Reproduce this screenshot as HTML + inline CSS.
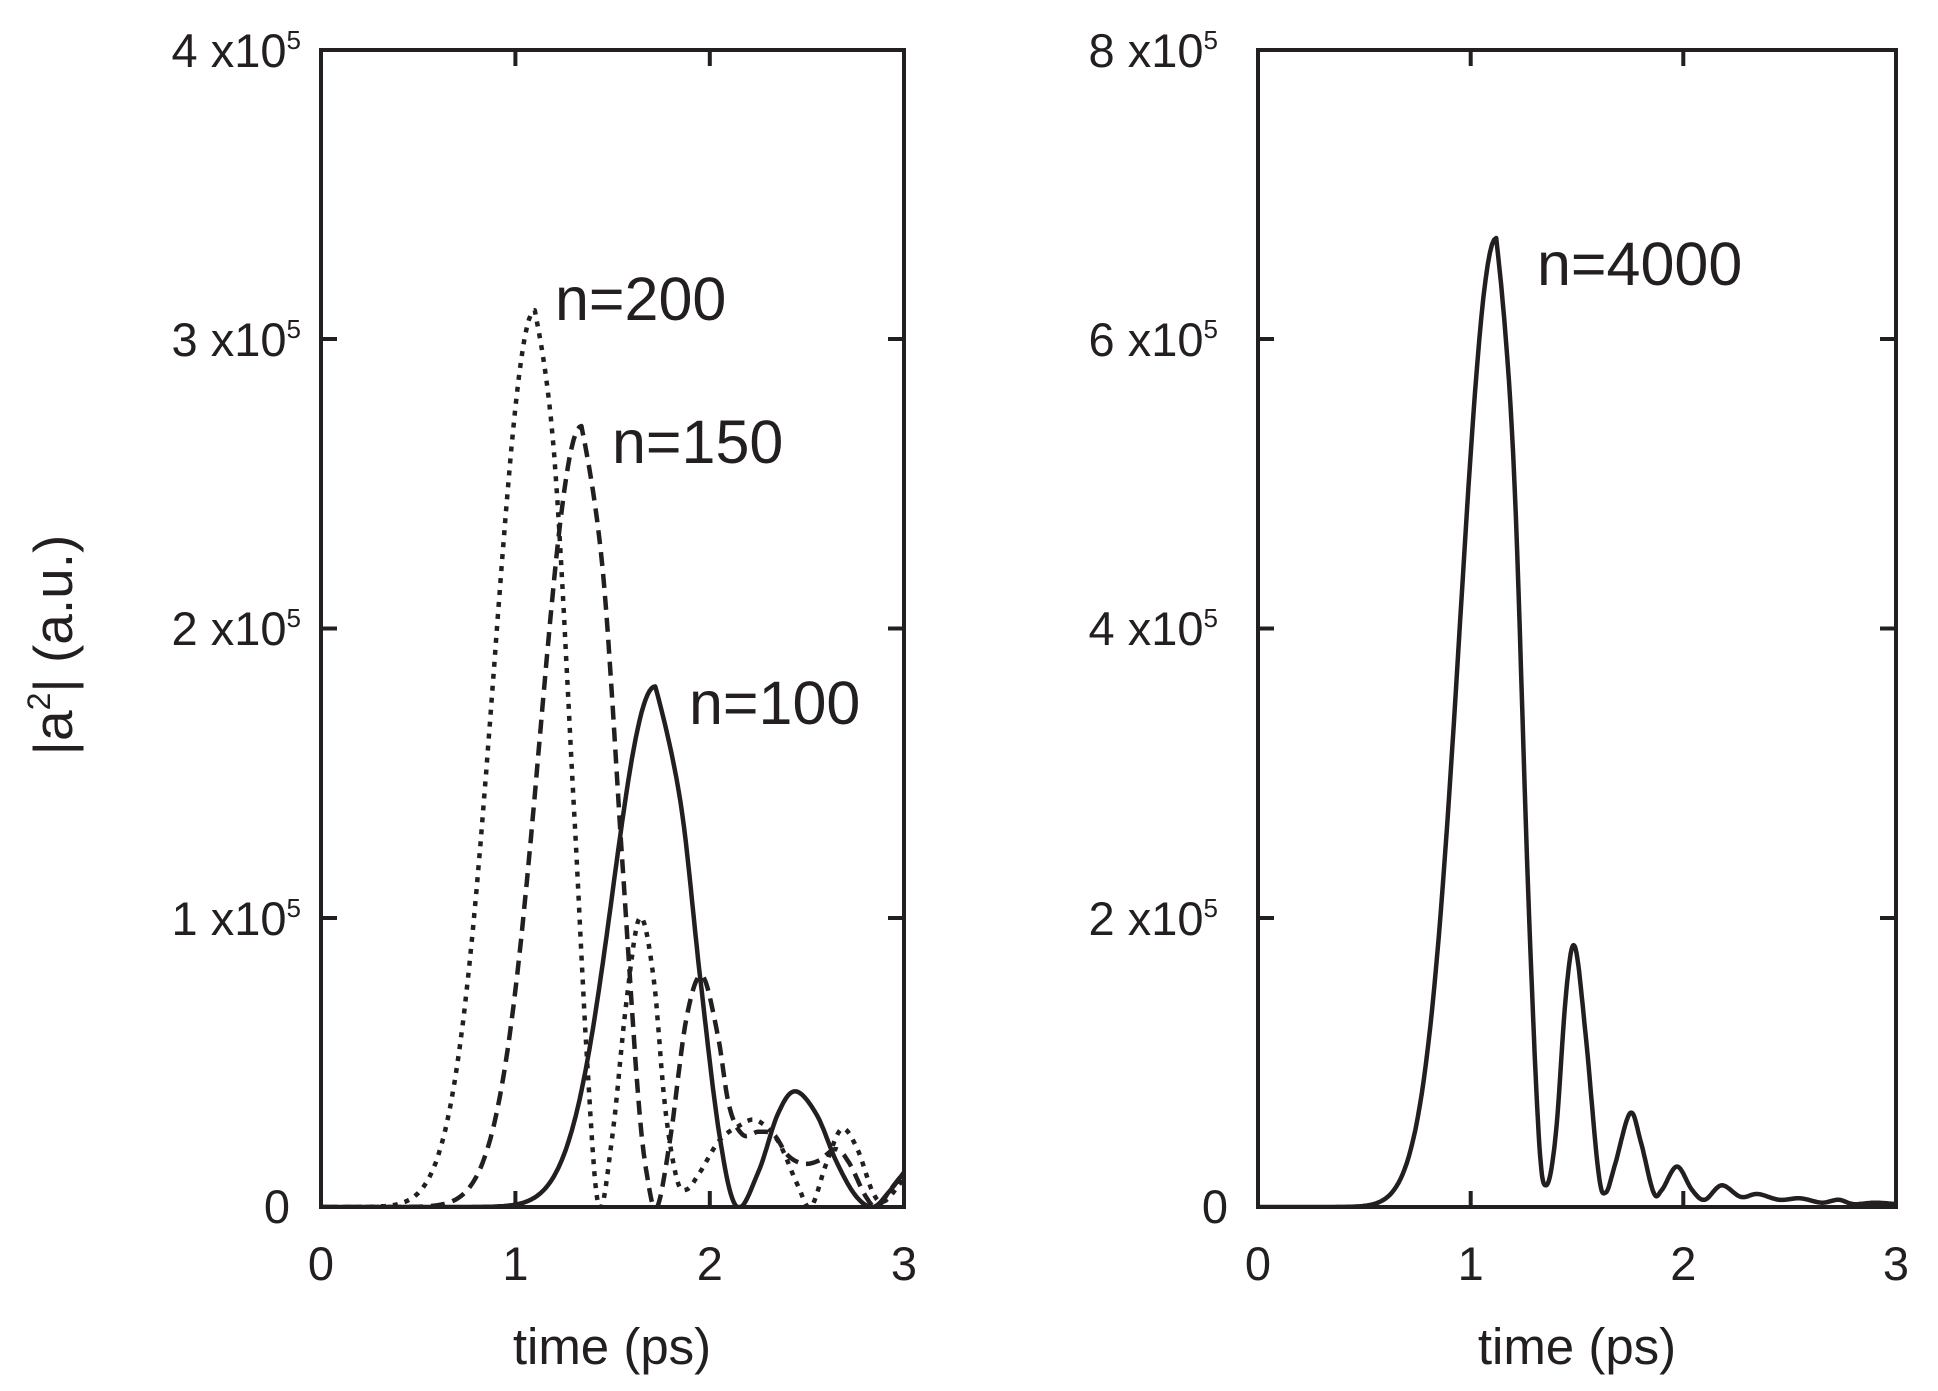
<!DOCTYPE html>
<html><head><meta charset="utf-8"><style>
html,body{margin:0;padding:0;background:#fff;}
svg{display:block;}
text{font-family:"Liberation Sans",sans-serif;fill:#231f20;}
</style></head><body>
<svg id="s" width="1938" height="1391" viewBox="0 0 1938 1391" xmlns="http://www.w3.org/2000/svg">
<defs>
<clipPath id="c1"><rect x="321" y="50" width="583" height="1157"/></clipPath>
<clipPath id="c2"><rect x="1258" y="50" width="638" height="1157"/></clipPath>
</defs>
<g stroke="#231f20" stroke-width="4" fill="none">
<rect x="321" y="50" width="583" height="1157"/>
<rect x="1258" y="50" width="638" height="1157"/>
<path d="M321,339h16M321,628.5h16M321,918h16M904,339h-16M904,628.5h-16M904,918h-16
M515.4,1207v-16M709.8,1207v-16M515.4,50v16M709.8,50v16
M1258,339h16M1258,628.5h16M1258,918h16M1896,339h-16M1896,628.5h-16M1896,918h-16
M1470.7,1207v-16M1683.3,1207v-16M1470.7,50v16M1683.3,50v16"/>
</g>
<g id="curves" fill="none" stroke="#231f20" stroke-width="4.5" stroke-linejoin="round"></g>
<g font-size="47">
<text x="301" y="67" text-anchor="end">4 x10<tspan font-size="26" dy="-18">5</tspan></text>
<text x="301" y="356" text-anchor="end">3 x10<tspan font-size="26" dy="-18">5</tspan></text>
<text x="301" y="645" text-anchor="end">2 x10<tspan font-size="26" dy="-18">5</tspan></text>
<text x="301" y="935" text-anchor="end">1 x10<tspan font-size="26" dy="-18">5</tspan></text>
<text x="290" y="1223" text-anchor="end">0</text>
<text x="1218" y="67" text-anchor="end">8 x10<tspan font-size="26" dy="-18">5</tspan></text>
<text x="1218" y="356" text-anchor="end">6 x10<tspan font-size="26" dy="-18">5</tspan></text>
<text x="1218" y="645" text-anchor="end">4 x10<tspan font-size="26" dy="-18">5</tspan></text>
<text x="1218" y="935" text-anchor="end">2 x10<tspan font-size="26" dy="-18">5</tspan></text>
<text x="1228" y="1223" text-anchor="end">0</text>
<text x="321" y="1280" text-anchor="middle">0</text>
<text x="515.4" y="1280" text-anchor="middle">1</text>
<text x="709.8" y="1280" text-anchor="middle">2</text>
<text x="904" y="1280" text-anchor="middle">3</text>
<text x="1258" y="1280" text-anchor="middle">0</text>
<text x="1470.7" y="1280" text-anchor="middle">1</text>
<text x="1683.3" y="1280" text-anchor="middle">2</text>
<text x="1896" y="1280" text-anchor="middle">3</text>
</g>
<g font-size="51">
<text x="612" y="1364" text-anchor="middle">time (ps)</text>
<text x="1577" y="1364" text-anchor="middle">time (ps)</text>
</g>
<text transform="translate(72,645) rotate(-90)" text-anchor="middle" font-size="55">|a<tspan font-size="32" dy="-22">2</tspan><tspan dy="22">| (a.u.)</tspan></text>
<g font-size="61">
<text x="555" y="320">n=200</text>
<text x="612" y="463">n=150</text>
<text x="689" y="724">n=100</text>
<text x="1537" y="285">n=4000</text>
</g>
</svg>
<script>
function build(peakT,peakV,w,keys,X,Y){
  var pts=[];
  for(var t=0;t<peakT;t+=0.01){pts.push([t,peakV*Math.exp(-Math.pow((t-peakT)/w,2))]);}
  var k=[[peakT-0.03,peakV*Math.exp(-Math.pow(0.03/w,2))]].concat(keys);
  k.push(keys[keys.length-1]);
  for(var i=1;i<k.length-2;i++){
    var p0=k[i-1],p1=k[i],p2=k[i+1],p3=k[i+2];
    for(var s=0;s<12;s++){var u=s/12,u2=u*u,u3=u2*u;
      var f=function(a,b,c,d){return 0.5*(2*b+(-a+c)*u+(2*a-5*b+4*c-d)*u2+(-a+3*b-3*c+d)*u3);};
      pts.push([f(p0[0],p1[0],p2[0],p3[0]),Math.max(0,f(p0[1],p1[1],p2[1],p3[1]))]);}
  }
  pts.push(keys[keys.length-1]);
  return "M"+pts.map(function(p){return X(p[0]).toFixed(1)+","+Y(p[1]).toFixed(1);}).join("L");
}
var X1=function(t){return 321+t*194.33},Y1=function(v){return 1207-v/4e5*1157};
var X2=function(t){return 1258+t*212.67},Y2=function(v){return 1207-v/8e5*1157};
var g=document.getElementById("curves"),NS="http://www.w3.org/2000/svg";
function add(d,dash,clip){var p=document.createElementNS(NS,"path");p.setAttribute("d",d);if(dash)p.setAttribute("stroke-dasharray",dash);p.setAttribute("clip-path",clip);g.appendChild(p);}
add(build(1.1,3.1e5,0.294,[[1.1,3.1e5],[1.2,2.6e5],[1.3,1.4e5],[1.37,5e4],[1.43,0],[1.5,2.5e4],[1.57,7e4],[1.64,1e5],[1.71,8e4],[1.77,3.5e4],[1.83,1e4],[1.88,6e3],[1.95,1.2e4],[2.05,2.3e4],[2.15,2.8e4],[2.24,3e4],[2.35,2.3e4],[2.45,8e3],[2.52,0],[2.6,1.5e4],[2.68,2.7e4],[2.76,2e4],[2.84,5e3],[2.9,2e3],[3.0,1e4]],X1,Y1),"5 7","url(#c1)");
add(build(1.34,2.7e5,0.30,[[1.34,2.7e5],[1.45,2.2e5],[1.55,1.2e5],[1.63,4e4],[1.68,1e4],[1.73,0],[1.8,2.5e4],[1.88,6.5e4],[1.96,8e4],[2.04,6e4],[2.1,3.5e4],[2.17,2.5e4],[2.25,2.6e4],[2.33,2.5e4],[2.4,1.8e4],[2.48,1.5e4],[2.56,1.6e4],[2.65,2e4],[2.72,1.5e4],[2.8,4e3],[2.86,0],[2.93,6e3],[3.0,1.2e4]],X1,Y1),"14 8","url(#c1)");
add(build(1.72,1.8e5,0.31,[[1.72,1.8e5],[1.85,1.4e5],[1.95,8e4],[2.05,2.5e4],[2.14,0],[2.25,1.2e4],[2.35,3.2e4],[2.44,4e4],[2.55,3.2e4],[2.65,1.6e4],[2.75,4e3],[2.84,0],[2.92,5e3],[3.0,1.2e4]],X1,Y1),null,"url(#c1)");
add(build(1.12,6.7e5,0.239,[[1.12,6.7e5],[1.2,5.2e5],[1.27,2.2e5],[1.32,5e4],[1.355,1.5e4],[1.4,5e4],[1.45,1.5e5],[1.49,1.8e5],[1.54,1.2e5],[1.6,2.5e4],[1.635,1e4],[1.68,3e4],[1.75,6.5e4],[1.8,4.5e4],[1.86,1e4],[1.9,1.2e4],[1.97,2.8e4],[2.04,1.2e4],[2.1,5e3],[2.18,1.5e4],[2.27,7e3],[2.35,9e3],[2.45,5e3],[2.55,6e3],[2.65,3e3],[2.73,5e3],[2.8,2e3],[2.9,3e3],[3.0,2e3]],X2,Y2),null,"url(#c2)");
</script>
</body></html>
